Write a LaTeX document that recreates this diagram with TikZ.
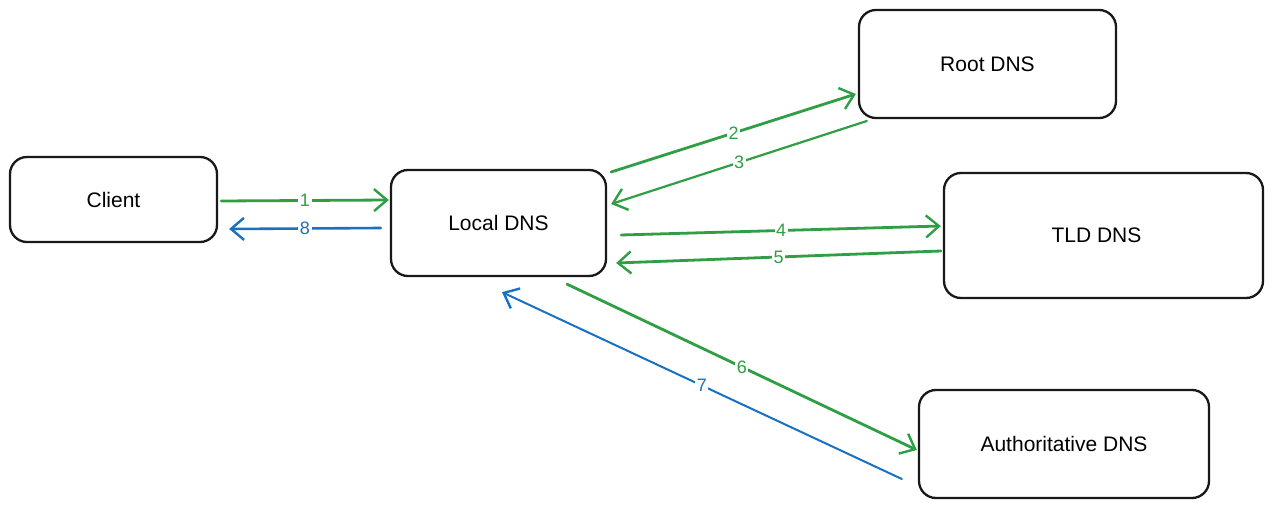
\documentclass[tikz,border=0pt]{standalone}
\usepackage{fontspec}
\setmainfont{Liberation Sans}
\usetikzlibrary{arrows.meta,calc}
\definecolor{flowgreen}{HTML}{2F9E44}
\definecolor{flowblue}{HTML}{1971C2}
\tikzset{
  server/.style={draw=black!90, line width=2.3pt, rounded corners=17pt,
    fill=white, font=\fontsize{21}{24}\selectfont},
  req/.style={draw=flowgreen, line width=2.8pt, line cap=round,
    -{Straight Barb[length=13pt,width=22pt,line width=2.4pt]}},
  resp/.style={draw=flowblue, line width=2.6pt, line cap=round,
    -{Straight Barb[length=13pt,width=22pt,line width=2.4pt]}},
  seqlabel/.style={fill=white, inner sep=1.5pt, font=\fontsize{18}{20}\selectfont}
}
\begin{document}
\begin{tikzpicture}[x=1pt,y=-1pt]
  \useasboundingbox[fill=white] (0,0) rectangle (1273,510);

  % servers
  \node[server, minimum width=207pt, minimum height=85pt] (client) at (113.5,199.5) {Client};
  \node[server, minimum width=215pt, minimum height=106pt] (local) at (498.5,223) {Local DNS};
  \node[server, minimum width=257pt, minimum height=108pt] (root) at (987.5,64) {Root DNS};
  \node[server, minimum width=319pt, minimum height=125pt] (tld) at (1103.5,235.5) {\hspace*{-14pt}TLD DNS};
  \node[server, minimum width=290pt, minimum height=108pt] (auth) at (1064,444) {Authoritative DNS};

  % query path (green) and answers back to the client (blue)
  \draw[req] ($(client.east)+(3,1.5)$) -- node[seqlabel, text=flowgreen] {1} ($(local.west)+(-1,-23)$);
  \draw[resp] ($(local.west)+(-9,5)$) -- node[seqlabel, text=flowblue] {8} ($(client.east)+(11,29.5)$);

  \draw[req] ($(local.east)+(4,-51)$) -- node[seqlabel, text=flowgreen] {2} ($(root.west)+(-2,30)$);
  \draw[req, line width=2.2pt] ($(root.west)+(9,57)$) -- node[seqlabel, text=flowgreen] {3} ($(local.east)+(4,-19)$);

  \draw[req] ($(local.east)+(14,12)$) -- node[seqlabel, text=flowgreen] {4} ($(tld.west)+(-2,-9.5)$);
  \draw[req] ($(tld.west)+(-2,15.5)$) -- node[seqlabel, text=flowgreen] {5} ($(local.east)+(9,40)$);

  \draw[req] ($(local.south)+(68.5,7)$) -- node[seqlabel, text=flowgreen] {6} ($(auth.west)+(-1,6)$);
  \draw[resp, line width=2pt] ($(auth.west)+(-16,35)$) -- node[seqlabel, text=flowblue] {7} ($(local.south)+(3.5,15)$);
\end{tikzpicture}
\end{document}
